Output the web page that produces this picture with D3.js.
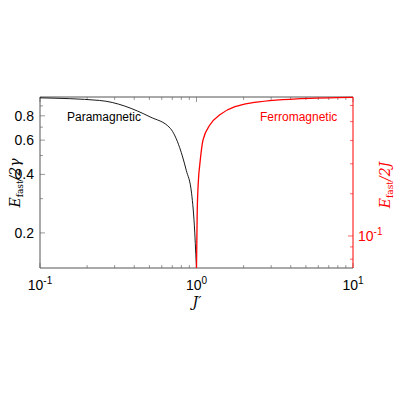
<!DOCTYPE html>
<html><head><meta charset="utf-8">
<script src="https://cdn.jsdelivr.net/npm/d3@7"></script>
<style>body{margin:0;background:#fff}text{font-family:"Liberation Sans",Arial,sans-serif}</style>
</head><body><div id="chart"></div>
<script>
// values
const paraJ = [0.1, 0.24, 0.505, 0.68, 0.78, 0.86, 0.93, 0.975, 0.99, 1.0];
const paraE = [0.99, 0.96, 0.79, 0.69, 0.55, 0.42, 0.32, 0.2, 0.155, 0.132];
const ferroJ = [1.0, 1.01, 1.03, 1.05, 1.1, 1.22, 1.41, 2.2, 4.6, 10];
const ferroE = [0.132, 0.25, 0.38, 0.45, 0.6, 0.72, 0.81, 0.93, 0.98, 0.995];
const xTicks = [0.1, 1, 10];
const xMinor = [0.2,0.3,0.4,0.5,0.6,0.7,0.8,0.9,2,3,4,5,6,7,8,9];
const leftTicks = [0.2, 0.4, 0.6, 0.8];
const leftMinor = [0.3, 0.5, 0.7, 0.9];
const rightTicks = [0.1];
const rightMinor = [0.08, 0.09, 0.15, 0.2, 0.25, 0.3, 0.35];

const W = 400, H = 400, L = 40, R = 353, T = 97, B = 268;
const svg = d3.select("#chart").append("svg").attr("width", W).attr("height", H);

const x = d3.scaleLog().domain([0.1, 10]).range([L, R]);
const y = d3.scaleLog().domain([0.132, 1]).range([B, T]);
const y2 = d3.scaleLog().domain([0.0735, 0.38]).range([B, T]);

// inward ticks
function ticks(vals, fn, len, col) {
  vals.forEach(v => fn(v, len, col));
}
const g = svg.append("g");
const xt = (v, len) => {
  g.append("line").attr("x1", x(v)).attr("x2", x(v)).attr("y1", B).attr("y2", B - len).attr("stroke", "#999");
  g.append("line").attr("x1", x(v)).attr("x2", x(v)).attr("y1", T).attr("y2", T + len).attr("stroke", "#999");
};
ticks(xTicks, xt, 5); ticks(xMinor, xt, 3);
const lt = (v, len) => g.append("line").attr("x1", L).attr("x2", L + len).attr("y1", y(v)).attr("y2", y(v)).attr("stroke", "#999");
ticks(leftTicks, lt, 5); ticks(leftMinor, lt, 3);
const rt = (v, len) => g.append("line").attr("x1", R).attr("x2", R - len).attr("y1", y2(v)).attr("y2", y2(v)).attr("stroke", "#f66");
ticks(rightTicks, rt, 5); ticks(rightMinor, rt, 3);

// frame
svg.append("line").attr("x1", L).attr("x2", R).attr("y1", T).attr("y2", T).attr("stroke", "#555");
svg.append("line").attr("x1", L).attr("x2", R).attr("y1", B).attr("y2", B).attr("stroke", "#555");
svg.append("line").attr("x1", L).attr("x2", L).attr("y1", T).attr("y2", B).attr("stroke", "#555");
svg.append("line").attr("x1", R).attr("x2", R).attr("y1", T).attr("y2", B).attr("stroke", "red");

// curves
const line = d3.line().x(d => x(d[0])).y(d => y(d[1])).curve(d3.curveMonotoneX);
svg.append("path").datum(d3.zip(paraJ, paraE)).attr("d", line).attr("fill", "none").attr("stroke", "black").attr("stroke-width", 0.9);
svg.append("path").datum(d3.zip(ferroJ, ferroE)).attr("d", line).attr("fill", "none").attr("stroke", "red").attr("stroke-width", 1.3);

// tick labels
leftTicks.forEach(v => svg.append("text").attr("x", 34).attr("y", y(v) + 5).attr("text-anchor", "end").attr("font-size", 14).text(v));
const exps = [-1, 0, 1];
xTicks.forEach((v, i) => {
  const t = svg.append("text").attr("x", x(v)).attr("y", 290).attr("text-anchor", "middle").attr("font-size", 14);
  t.append("tspan").text("10");
  t.append("tspan").attr("dy", -6).attr("font-size", 10).text(exps[i]);
});
rightTicks.forEach(v => {
  const t = svg.append("text").attr("x", 358).attr("y", y2(v) + 5).attr("font-size", 14).attr("fill", "red");
  t.append("tspan").text("10");
  t.append("tspan").attr("dy", -6).attr("font-size", 10).text("-1");
});

// annotations
svg.append("text").attr("x", 67).attr("y", 121).attr("font-size", 12).text("Paramagnetic");
svg.append("text").attr("x", 260).attr("y", 121).attr("font-size", 12).attr("fill", "red").text("Ferromagnetic");

// axis titles
const ser = "font-family:'DejaVu Serif',serif;font-style:italic";
svg.append("text").attr("x", 197).attr("y", 307).attr("text-anchor", "middle").attr("font-size", 14).attr("style", ser).text("J′");
const lt1 = svg.append("text").attr("transform", "translate(20,183) rotate(-90)").attr("text-anchor", "middle").attr("font-size", 14).attr("style", ser);
lt1.append("tspan").text("E");
lt1.append("tspan").attr("dy", 3).attr("font-size", 9).attr("font-style", "normal").text("fast");
lt1.append("tspan").attr("dy", -3).text("/2γ");
const rt1 = svg.append("text").attr("transform", "translate(390,185) rotate(-90)").attr("text-anchor", "middle").attr("font-size", 14).attr("fill", "red").attr("style", ser);
rt1.append("tspan").text("E");
rt1.append("tspan").attr("dy", 3).attr("font-size", 9).attr("font-style", "normal").text("fast");
rt1.append("tspan").attr("dy", -3).text("/2J");
</script></body></html>
